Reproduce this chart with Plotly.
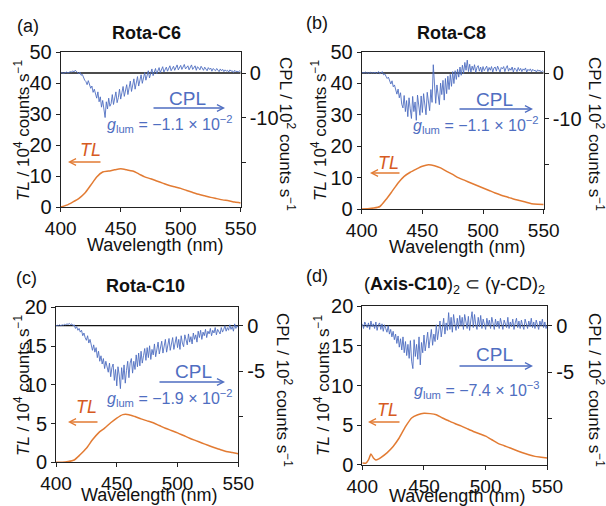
import plotly.graph_objects as go

W, H = 606, 506
FONT = "Liberation Sans, Arial, sans-serif"
BLUE = "#4F6EC1"
ORANGE = "#E27B33"
TLRED = "#D65A22"
AXC = "#222222"

# ---------------- data ----------------
wl_tl = [400, 405, 410, 415, 420, 425, 430, 435, 440, 445, 450, 455, 460, 465, 470,
         475, 480, 485, 490, 495, 500, 505, 510, 515, 520, 525, 530, 535, 540, 545, 550]
tl_a = [0.0, 0.6, 1.6, 2.7, 4.4, 7.0, 9.7, 11.3, 11.6, 12.0, 12.3, 12.0, 11.6, 10.7, 9.7,
        9.1, 8.4, 7.7, 7.0, 6.5, 6.0, 5.3, 4.7, 4.1, 3.6, 3.1, 2.7, 2.3, 2.0, 1.6, 1.3]
tl_b = [0.0, 0.1, 0.3, 0.8, 3.0, 5.6, 8.3, 10.4, 11.7, 12.7, 13.6, 14.1, 13.8, 13.1, 12.0,
        11.0, 9.9, 9.1, 8.3, 7.5, 6.7, 5.9, 5.1, 4.4, 3.8, 3.2, 2.7, 2.2, 1.7, 1.5, 1.4]
tl_c = [0.0, 0.0, 0.1, 0.3, 1.0, 1.8, 2.9, 3.8, 4.4, 5.1, 5.7, 6.15, 6.15, 5.9, 5.6,
        5.35, 5.1, 4.75, 4.4, 4.1, 3.8, 3.45, 3.1, 2.8, 2.5, 2.2, 1.9, 1.65, 1.4, 1.25, 1.1]
wl_tl_d = [400, 403, 405, 407, 409, 411, 413, 415, 420, 425, 430, 435, 440, 445, 450, 455,
           460, 465, 470, 475, 480, 485, 490, 495, 500, 505, 510, 515, 520, 525, 530, 535,
           540, 545, 550]
tl_d = [0.2, 0.2, 0.6, 1.35, 0.85, 0.6, 0.7, 0.9, 1.5, 2.3, 3.4, 4.8, 5.9, 6.3, 6.5, 6.45,
        6.3, 5.9, 5.55, 5.2, 4.9, 4.55, 4.2, 3.9, 3.6, 3.15, 2.7, 2.4, 2.1, 1.8, 1.5, 1.25,
        1.05, 0.95, 0.85]

wl_cpl = list(range(400, 551))
cpl_a = [0.0, 0.1, -0.1, 0.0, 0.1, 0.2, 0.0, 0.1, 0.3, 0.2,
         0.5, 0.2, 0.6, 0.4, 0.1, -0.2, 0.2, -0.5, -0.3, -1.0,
         -1.6, -1.9, -2.6, -1.7, -2.8, -3.4, -2.9, -4.3, -3.6, -4.9,
         -5.6, -4.2, -6.4, -5.3, -7.6, -6.1, -8.8, -9.9, -6.4, -8.0,
         -5.6, -7.4, -6.8, -4.8, -7.0, -5.9, -4.2, -6.6, -5.5, -3.6,
         -5.8, -4.4, -3.0, -5.2, -3.7, -2.6, -4.8, -3.3, -1.8, -4.1,
         -2.6, -1.3, -3.6, -2.2, -0.8, -2.9, -1.6, -0.4, -2.3, -0.9,
         0.1, -1.6, -0.5, 0.5, -1.1, -0.2, 0.9, -0.6, 0.3, 1.0,
         -0.2, 0.6, 1.2, 0.1, 0.8, 1.4, 0.2, 0.9, 1.3, 0.4,
         1.0, 1.6, 0.5, 1.1, 1.5, 0.6, 1.3, 1.8, 0.7, 1.2,
         1.7, 0.8, 1.4, 1.9, 0.9, 1.3, 1.6, 0.7, 1.5, 1.8,
         0.8, 1.2, 1.6, 0.6, 1.4, 1.1, 0.7, 1.5, 1.0, 0.6,
         1.3, 0.9, 0.5, 1.2, 0.8, 1.1, 0.4, 1.0, 0.7, 0.5,
         1.0, 0.6, 0.3, 0.9, 0.5, 0.8, 0.3, 0.7, 0.4, 0.6,
         0.2, 0.7, 0.4, 0.5, 0.1, 0.6, 0.3, 0.4, 0.2, 0.5,
         0.3]
cpl_b = [0.0, 0.1, 0.0, 0.2, 0.0, 0.1, -0.1, 0.2, 0.0, 0.1,
         0.0, 0.2, -0.1, 0.1, 0.3, -0.2, 0.1, 0.3, -0.4, -0.2,
         -0.7, -1.2, -0.9, -1.8, -2.4, -1.7, -3.0, -2.6, -3.8, -4.6,
         -3.5, -5.4, -4.3, -6.8, -7.6, -4.9, -8.4, -6.0, -9.5, -5.4,
         -7.8, -9.9, -5.1, -8.4, -6.3, -10.3, -4.8, -7.6, -9.2, -5.0,
         -8.6, -4.5, -7.2, -9.1, -4.2, -6.9, -8.2, -3.6, -6.4, 1.8,
         -3.4, -6.6, -2.6, -5.2, -6.9, -2.2, -4.7, -1.6, -5.9, -1.2,
         -4.5, -0.7, -3.6, -0.3, -2.9, 0.3, -2.3, 0.5, -1.4, 0.8,
         -0.9, 1.3, -0.5, 1.7, -0.1, 2.3, 0.6, 2.8, 0.3, 1.9,
         0.2, 1.5, 0.6, 1.8, 0.1, 1.2, 1.6, 0.4, 1.3, 0.2,
         1.4, 0.5, 1.1, 1.5, 0.3, 1.2, 0.6, 1.4, 0.2, 1.1,
         1.3, 0.4, 1.5, 0.7, 0.2, 1.2, 0.9, 1.4, 0.3, 1.1,
         1.6, 0.4, 1.0, 0.6, 1.3, 0.2, 1.1, 0.8, 0.3, 1.2,
         0.5, 1.0, 0.3, 0.9, 0.6, 1.1, 0.2, 0.8, 0.5, 0.9,
         0.3, 0.8, 0.5, 0.6, 0.2, 0.7, 0.4, 0.6, 0.2, 0.5,
         0.3]
cpl_c = [0.0, 0.05, 0.0, 0.1, 0.0, 0.1, 0.05, 0.15, 0.1, 0.2,
         0.15, 0.25, 0.1, 0.2, 0.0, 0.1, -0.3, -0.1, -0.5, -0.3,
         -0.7, -0.5, -1.1, -0.8, -1.3, -1.6, -1.1, -1.9, -1.5, -2.2,
         -2.7, -2.1, -2.9, -2.4, -3.5, -2.8, -3.9, -3.3, -4.2, -3.6,
         -4.7, -3.9, -4.4, -5.1, -4.1, -5.6, -4.6, -4.2, -6.0, -4.8,
         -6.6, -4.5, -5.4, -6.9, -4.6, -5.9, -4.3, -6.3, -4.9, -3.9,
         -5.7, -4.1, -3.6, -5.2, -3.9, -4.8, -3.2, -4.5, -3.0, -4.4,
         -2.8, -4.1, -3.3, -2.5, -3.8, -2.4, -3.5, -2.2, -3.7, -2.6,
         -3.2, -2.0, -3.4, -2.5, -1.8, -3.1, -2.2, -1.7, -3.0, -2.1,
         -1.5, -2.9, -2.0, -1.4, -2.7, -1.8, -1.3, -2.6, -1.6, -1.2,
         -2.4, -1.5, -2.6, -1.1, -1.9, -2.3, -1.0, -1.7, -2.1, -0.9,
         -1.8, -1.2, -2.0, -0.8, -1.5, -1.0, -1.8, -0.6, -1.3, -0.5,
         -1.5, -0.7, -1.1, -0.4, -1.3, -0.6, -0.9, -0.3, -1.1, -0.5,
         -0.8, -0.2, -1.0, -0.4, -0.6, -0.9, -0.2, -0.7, -0.4, 0.0,
         -0.6, -0.2, -0.5, 0.1, -0.4, -0.1, -0.6, 0.2, -0.3, 0.0,
         -0.2]
cpl_d = [0.2, -0.3, 0.4, 0.1, -0.2, 0.3, -0.4, 0.5, -0.1, 0.2,
         -0.3, 0.4, -0.5, 0.1, 0.3, -0.4, 0.2, -0.6, 0.1, -0.3,
         -0.7, 0.0, -0.9, -0.4, -1.2, -0.6, -1.5, -0.9, -1.9, -1.1,
         -2.3, -1.4, -2.6, -1.2, -2.9, -1.7, -3.2, -2.0, -3.5, -1.6,
         -3.8, -4.6, -1.5, -3.3, -2.0, -3.6, -1.2, -4.2, -1.8, -2.9,
         -1.0, -2.7, -1.6, -0.7, -2.4, -1.3, -0.4, -2.1, -0.9, -1.7,
         0.1, -1.5, -0.6, 0.5, -1.2, -0.2, 0.8, -0.9, 0.3, -0.5,
         1.4, -0.4, 0.9, -0.7, 1.2, 0.2, -0.5, 0.8, -0.3, 1.1,
         0.0, 0.9, -0.4, 1.2, 0.3, -0.3, 1.0, -0.5, 0.6, 1.5,
         -0.2, 1.2, 0.1, -0.4, 0.9, -0.1, 1.1, -0.3, 0.7, 0.2,
         -0.4, 0.8, 0.0, 0.6, -0.3, 0.9, 0.1, -0.4, 0.7, -0.1,
         0.5, -0.3, 0.8, 0.0, -0.4, 0.6, 0.2, -0.2, 0.9, -0.3,
         0.4, -0.1, 0.7, -0.4, 0.3, 0.8, -0.2, 0.5, -0.3, 0.6,
         0.0, -0.4, 0.7, 0.2, -0.3, 0.5, -0.1, 0.8, -0.2, 0.4,
         -0.3, 0.6, 0.1, -0.4, 0.5, 0.0, 0.7, -0.2, 0.4, -0.3,
         0.1]

x_ticks = [400, 450, 500, 550]
tl_ticks_ab = [0, 10, 20, 30, 40, 50]
tl_ticks_cd = [0, 5, 10, 15, 20]
cpl_ticks_ab = [0, -10, -20]
cpl_labels_ab = ["0", "-10", ""]
cpl_ticks_cd = [0, -5, -10]
cpl_labels_cd = ["0", "-5", ""]

labels = ["(a)", "(b)", "(c)", "(d)"]
titles = ["<b>Rota-C6</b>", "<b>Rota-C8</b>", "<b>Rota-C10</b>",
          "(<b>Axis-C10</b>)<sub>2</sub> ⊂ (γ-CD)<sub>2</sub>"]
glum_texts = ["<i>g</i><sub>lum</sub> = −1.1 × 10<sup>−2</sup>",
              "<i>g</i><sub>lum</sub> = −1.1 × 10<sup>−2</sup>",
              "<i>g</i><sub>lum</sub> = −1.9 × 10<sup>−2</sup>",
              "<i>g</i><sub>lum</sub> = −7.4 × 10<sup>−3</sup>"]

# ---------------- layout geometry (pixels) ----------------
panels = [
    dict(wl_tl=wl_tl, tl=tl_a, cpl=cpl_a, xd=(60.7, 240.7), yd=(52, 207),
         yr=(0, 50), yt=tl_ticks_ab, y2r=(-29.8, 4.67), y2t=cpl_ticks_ab, y2l=cpl_labels_ab,
         lab=(28, 26), title=(146, 33), ylab=(22, 130), y2lab=(287, 134), xlab=(155, 245),
         cpl_txt=(187, 99), cpl_arr=((225, 108), (152, 108)), glum=(170, 124),
         tl_txt=(90, 150), tl_arr=((68, 162), (102, 162))),
    dict(wl_tl=wl_tl, tl=tl_b, cpl=cpl_b, xd=(361.7, 543.7), yd=(52, 209),
         yr=(0, 50), yt=tl_ticks_ab, y2r=(-29.6, 4.57), y2t=cpl_ticks_ab, y2l=cpl_labels_ab,
         lab=(317, 23), title=(451, 33), ylab=(319, 130), y2lab=(596, 134), xlab=(457, 247),
         cpl_txt=(494, 100), cpl_arr=((533, 109), (458, 109)), glum=(476, 125),
         tl_txt=(388, 163), tl_arr=((370, 173), (401, 173))),
    dict(wl_tl=wl_tl, tl=tl_c, cpl=cpl_c, xd=(56, 238.3), yd=(307.3, 462.3),
         yr=(0, 20), yt=tl_ticks_cd, y2r=(-14.98, 2.02), y2t=cpl_ticks_cd, y2l=cpl_labels_cd,
         lab=(26, 278), title=(145, 286), ylab=(22, 385), y2lab=(284, 390), xlab=(149, 495),
         cpl_txt=(193, 371), cpl_arr=((225, 382), (158, 382)), glum=(170, 398),
         tl_txt=(86, 407), tl_arr=((68, 422), (99, 422))),
    dict(wl_tl=wl_tl_d, tl=tl_d, cpl=cpl_d, xd=(362.3, 547.3), yd=(306.3, 464.7),
         yr=(0, 20), yt=tl_ticks_cd, y2r=(-14.9, 2.08), y2t=cpl_ticks_cd, y2l=cpl_labels_cd,
         lab=(317, 276), title=(454, 285), ylab=(322, 385), y2lab=(596, 390), xlab=(457, 496),
         cpl_txt=(494, 354), cpl_arr=((533, 366), (458, 366)), glum=(477, 390),
         tl_txt=(387, 410), tl_arr=((368, 422), (401, 422))),
]


def P(px, py):
    return px / W, 1 - py / H


fig = go.Figure()
layout = dict(template="none", width=W, height=H, autosize=False,
              margin=dict(l=0, r=0, t=0, b=0, pad=0),
              paper_bgcolor="white", plot_bgcolor="white", showlegend=False,
              font=dict(family=FONT, color="#111111", size=20))
annotations = []

axis_common = dict(showgrid=False, zeroline=False, showline=True, linecolor=AXC,
                   linewidth=1, ticks="outside", ticklen=4, tickwidth=1, tickcolor=AXC,
                   automargin=False,
                   tickfont=dict(size=20, family=FONT, color="#111111"))

for i, p in enumerate(panels):
    n = i + 1
    xa = "x" if n == 1 else f"x{n}"
    yl_id = 2 * n - 1
    yr_id = 2 * n
    yl = "y" if yl_id == 1 else f"y{yl_id}"
    yr = f"y{yr_id}"

    layout["xaxis" if n == 1 else f"xaxis{n}"] = dict(
        axis_common, domain=[p["xd"][0] / W, p["xd"][1] / W], anchor=yl,
        range=[400, 550], tickvals=x_ticks, mirror=True,
        tickfont=dict(size=19, family=FONT, color="#111111"))
    layout["yaxis" if yl_id == 1 else f"yaxis{yl_id}"] = dict(
        axis_common, domain=[1 - p["yd"][1] / H, 1 - p["yd"][0] / H], anchor=xa,
        range=list(p["yr"]), tickvals=p["yt"])
    layout[f"yaxis{yr_id}"] = dict(
        axis_common, overlaying=yl, side="right", anchor=xa,
        range=list(p["y2r"]), tickvals=p["y2t"], ticktext=p["y2l"])

    # TL (left axis)
    fig.add_trace(go.Scatter(x=p["wl_tl"], y=p["tl"], mode="lines", xaxis=xa, yaxis=yl,
                             line=dict(color=ORANGE, width=1.5, shape="spline", smoothing=0.6)))
    # zero line for CPL
    fig.add_trace(go.Scatter(x=[400, 550], y=[0, 0], mode="lines", xaxis=xa, yaxis=yr,
                             line=dict(color="#111111", width=1.3)))
    # CPL (right axis)
    fig.add_trace(go.Scatter(x=wl_cpl, y=p["cpl"], mode="lines", xaxis=xa, yaxis=yr,
                             line=dict(color=BLUE, width=0.9)))

    def txt(pos, text, size, color="#111111", angle=0):
        x, y = P(*pos)
        annotations.append(dict(x=x, y=y, xref="paper", yref="paper", text=text,
                                showarrow=False, xanchor="center", yanchor="middle",
                                textangle=angle,
                                font=dict(size=size, color=color, family=FONT)))

    def arrow(head, tail, color):
        x, y = P(*head)
        annotations.append(dict(x=x, y=y, xref="paper", yref="paper", text="",
                                showarrow=True, ax=tail[0] - head[0], ay=tail[1] - head[1],
                                arrowhead=5, arrowsize=1.0, arrowwidth=1.3,
                                arrowcolor=color))

    txt(p["lab"], labels[i], 18)
    txt(p["title"], titles[i], 18)
    txt(p["ylab"], "<i>TL</i> / 10<sup>4</sup> counts s<sup>−1</sup>", 17, angle=-90)
    txt(p["y2lab"], "CPL / 10<sup>2</sup> counts s<sup>−1</sup>", 17, angle=90)
    txt(p["xlab"], "Wavelength (nm)", 18)
    txt(p["cpl_txt"], "CPL", 19, BLUE)
    arrow(p["cpl_arr"][0], p["cpl_arr"][1], BLUE)
    txt(p["glum"], glum_texts[i], 16, BLUE)
    txt(p["tl_txt"], "<i>TL</i>", 18, TLRED)
    arrow(p["tl_arr"][0], p["tl_arr"][1], ORANGE)

layout["annotations"] = annotations
fig.update_layout(**layout)
fig.write_html("out.html", config={"displayModeBar": False},
               post_script="document.body.style.margin='0';document.body.style.padding='0';")
